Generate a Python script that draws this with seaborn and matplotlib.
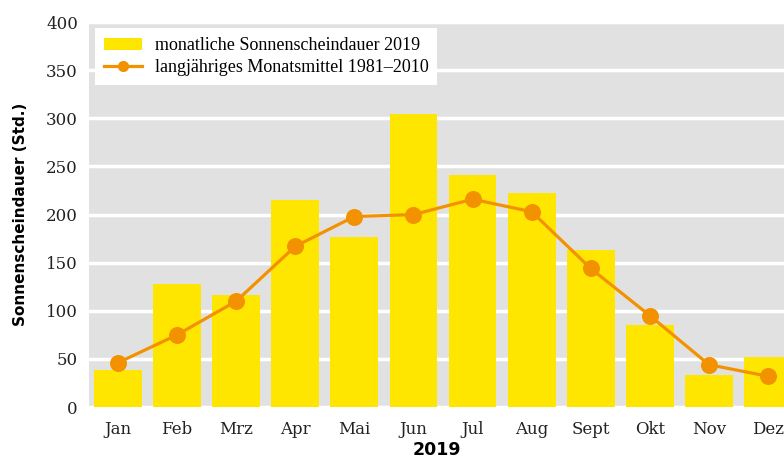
# Monthly sunshine duration 2019 vs. long-term mean (bar + line chart)

import seaborn as sns
import matplotlib.pyplot as plt
import pandas as pd

months = ['Jan', 'Feb', 'Mrz', 'Apr', 'Mai', 'Jun', 'Jul', 'Aug', 'Sept', 'Okt', 'Nov', 'Dez']
sun_2019 = [38, 128, 116, 215, 177, 305, 241, 222, 163, 85, 33, 52]
sun_mean = [46, 75, 110, 167, 198, 200, 216, 203, 144, 95, 44, 32]

df = pd.DataFrame({'Monat': months, 'Sonne2019': sun_2019, 'Mittel': sun_mean})

plt.rcParams['font.family'] = ['DejaVu Serif']

fig = plt.figure(figsize=(7.84, 4.62), dpi=100)
ax = fig.add_axes([0.1135, 0.119, 0.8865, 0.833])
ax.set_facecolor('#e1e1e1')

sns.barplot(data=df, x='Monat', y='Sonne2019', color='#ffe600', width=0.81,
            saturation=1, ax=ax, label='monatliche Sonnenscheindauer 2019')
sns.pointplot(data=df, x='Monat', y='Mittel', color='#f39200', markers='o',
              markersize=10.5, linewidth=2.3, ax=ax,
              label='langjähriges Monatsmittel 1981–2010')

ax.set_ylim(0, 400)
ax.set_xlim(-0.49, 11.27)
ax.set_yticks(range(0, 401, 50))
ax.grid(axis='y', color='white', linewidth=2.5)
ax.grid(axis='x', visible=False)
ax.set_axisbelow(True)
for s in ax.spines.values():
    s.set_visible(False)
ax.tick_params(length=0, labelsize=12, colors='#222222')
ax.tick_params(axis='x', pad=10)
ax.tick_params(axis='y', pad=8)

ax.set_xlabel('2019', fontsize=12.5, fontweight='bold', family='DejaVu Sans', labelpad=2)
ax.set_ylabel('Sonnenscheindauer (Std.)', fontsize=11, fontweight='bold',
              family='DejaVu Sans', labelpad=13)

handles, labels = ax.get_legend_handles_labels()
leg = ax.legend(handles[::-1], labels[::-1], loc='upper left',
                bbox_to_anchor=(0.0086, 0.984), borderaxespad=0,
                prop={'family': 'Liberation Serif', 'size': 13},
                frameon=True, fancybox=False, framealpha=1, edgecolor='white',
                handlelength=2.1, handletextpad=0.7, borderpad=0.5,
                labelspacing=0.25, markerscale=0.6)
leg.get_frame().set_linewidth(0)

fig.savefig('out.png', dpi=100)
